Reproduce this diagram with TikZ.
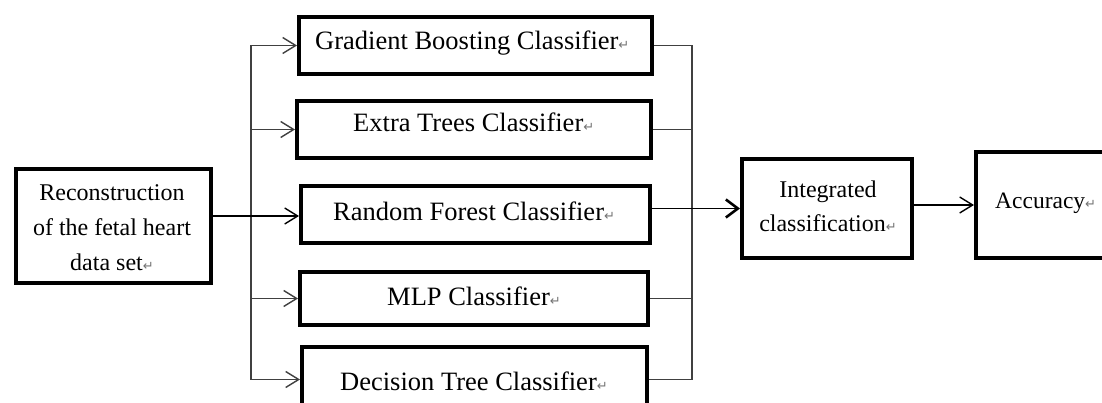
\documentclass[tikz,border=0pt]{standalone}
\usepackage{fontspec}
\setmainfont{Liberation Serif}
\newfontfamily\symfont{DejaVu Sans}
\usetikzlibrary{arrows.meta}
\newcommand\retmark{{\symfont\fontsize{13}{13}\selectfont\color{black!55}↵}}
\tikzset{
  box/.style={draw=black, line width=4pt, fill=white, inner sep=0pt, anchor=north west},
  lbl/.style={inner sep=0pt, anchor=base west, font=\fontsize{26.5}{30}\selectfont},
  conn/.style={draw=black!75, line width=1.4pt},
  mainconn/.style={draw=black, line width=1.4pt},
  barb/.style={-{Straight Barb[length=13pt,width=16pt,line width=1.4pt]}},
  heavybarb/.style={-{Straight Barb[length=12pt,width=18pt,line width=2.6pt]}},
}
\begin{document}
\begin{tikzpicture}[x=1pt,y=-1pt]
\useasboundingbox (0,0) rectangle (1102,403);
\clip (0,0) rectangle (1102,403);

% boxes
\node[box, minimum width=195, minimum height=114] (src) at (14,167) {};
\node[box, minimum width=353, minimum height=57] (gbc) at (297,15) {};
\node[box, minimum width=354, minimum height=57] (etc) at (295,99) {};
\node[box, minimum width=349, minimum height=57] (rfc) at (299,184) {};
\node[box, minimum width=348, minimum height=53] (mlp) at (298,270) {};
\node[box, minimum width=345, minimum height=65] (dtc) at (300,345) {};
\node[box, minimum width=170, minimum height=99] (int) at (740,157) {};
\node[box, minimum width=156, minimum height=106] (acc) at (974,150) {};

% box texts
\node[inner sep=0pt, align=center, font=\fontsize{24}{35}\selectfont] (srct) at (112,228)
  {Reconstruction\\of the fetal heart\\data set\retmark};
\node[lbl] (gbct) at (315,50) {Gradient Boosting Classifier\retmark};
\node[lbl] (etct) at (353,132) {Extra Trees Classifier\retmark};
\node[lbl] (rfct) at (333,221) {Random Forest Classifier\retmark};
\node[lbl] (mlpt) at (387,305) {MLP Classifier\retmark};
\node[lbl] (dtct) at (340,390) {Decision Tree Classifier\retmark};
\node[inner sep=0pt, align=center, font=\fontsize{24}{34}\selectfont] (intt) at (828,206)
  {Integrated\\classification\retmark};
\node[lbl, font=\fontsize{23.5}{28}\selectfont] (acct) at (995,209) {Accuracy\retmark};

% fan-out bus on the left
\coordinate (lbus) at (251,0);
\draw[conn] (lbus |- gbc.west) -- (lbus |- dtc.west);
\draw[conn,barb] (lbus |- gbc.west) -- (gbc.west);
\draw[conn,barb] (lbus |- etc.west) -- (etc.west);
\draw[conn,barb] (lbus |- mlp.west) -- (mlp.west);
\draw[conn,barb] (lbus |- dtc.west) -- (dtc.west);
\draw[mainconn,barb] (src.east |- 0,216) -- (rfc.west |- 0,216);

% fan-in bus on the right
\coordinate (rbus) at (692,0);
\draw[conn] (rbus |- gbc.east) -- (rbus |- dtc.east);
\draw[conn] (gbc.east) -- (rbus |- gbc.east);
\draw[conn] (etc.east) -- (rbus |- etc.east);
\draw[conn] (mlp.east) -- (rbus |- mlp.east);
\draw[conn] (dtc.east) -- (rbus |- dtc.east);
\draw[mainconn,heavybarb] (rfc.east |- int.west) -- (int.west);

% to accuracy
\draw[mainconn,barb] (int.east |- acc.west) -- (acc.west);
\end{tikzpicture}
\end{document}
